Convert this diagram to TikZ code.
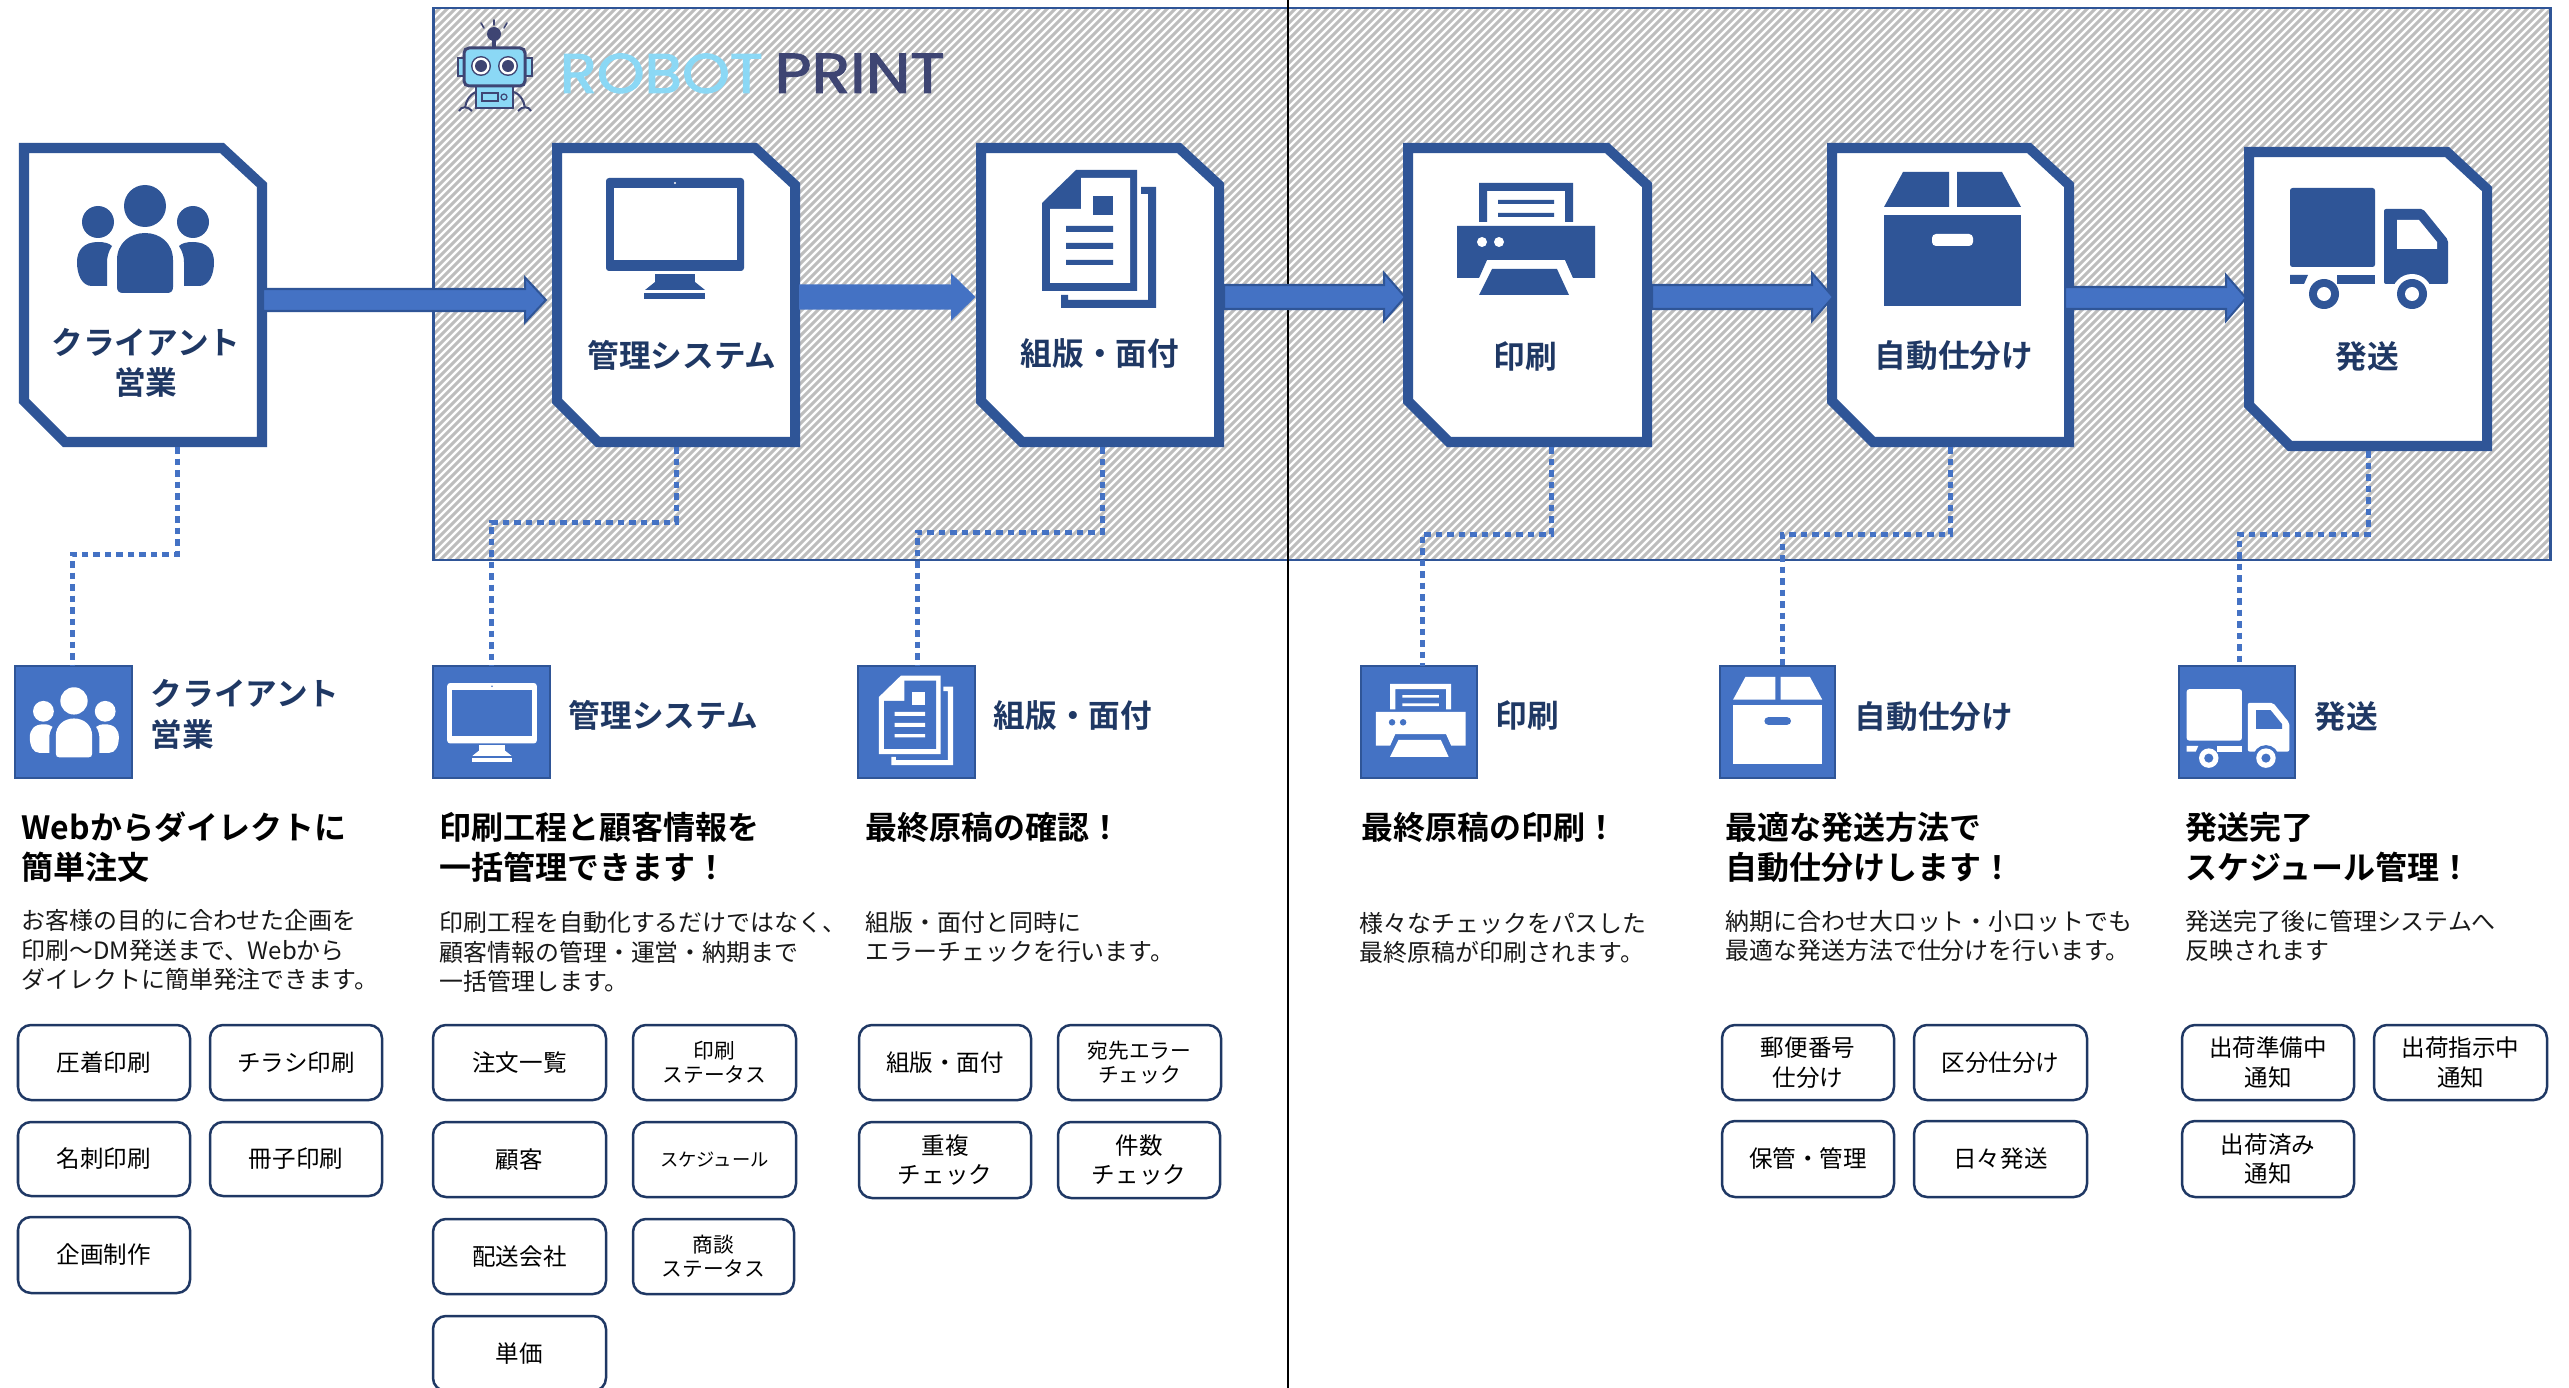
\documentclass[tikz,border=0pt]{standalone}
\usepackage{fontspec}
\usepackage{graphicx}
\usetikzlibrary{calc}
\newfontfamily\jp{Noto Sans CJK JP}
\newfontfamily\jpb{Noto Sans CJK JP Bold}
\newfontfamily\logofont{Poppins}[FakeBold=2]
\definecolor{cardblue}{HTML}{2F5597}
\definecolor{fillblue}{HTML}{4472C4}
\definecolor{navy}{HTML}{1F3864}
\definecolor{hatch}{HTML}{BDBDBD}
\definecolor{logodark}{HTML}{3E4573}
\definecolor{logolight}{HTML}{8BD8F5}
\tikzset{
  cardbox/.style={rectangle,outer sep=0pt,inner sep=0pt},
  cardline/.style={draw=cardblue,fill=white,line width=0.1cm,miter limit=10},
  iconbox/.style={draw=cardblue,fill=fillblue,line width=0.025cm,inner sep=0pt,outer sep=0pt},
  tagbox/.style={draw=navy,fill=white,rounded corners=0.13cm,line width=0.025cm,inner sep=0pt,align=center,text=black},
  tagA/.style={tagbox,font=\jp\fontsize{6.69}{8.5}\selectfont},
  tagB/.style={tagbox,font=\jp\fontsize{5.89}{6.9}\selectfont},
  tagC/.style={tagbox,font=\jp\fontsize{5.21}{6.5}\selectfont},
  cardtitle/.style={font=\jpb\fontsize{9.0}{11.4}\selectfont,text=navy,inner sep=0pt,align=center},
  sidetitle/.style={font=\jpb\fontsize{9.0}{11.7}\selectfont,text=navy,inner sep=0pt,align=left,anchor=west},
  headline/.style={font=\jpb\fontsize{9.1}{11.38}\selectfont,text=black,inner sep=0pt,align=left,anchor=west},
  bodytext/.style={font=\jp\fontsize{6.8}{8.3}\selectfont,text=black!90,inner sep=0pt,align=left,anchor=west},
  conn/.style={draw=fillblue,line width=0.05cm,dash pattern=on 0.065cm off 0.05cm},
  fatarrow/.style={draw=cardblue,fill=fillblue,line width=0.02cm,miter limit=10},
}
\newcommand{\cardnode}[5]{%
  \node[cardbox,minimum width={(#4-#2)*0.01cm},minimum height={(#5-#3)*0.01cm}] (#1) at ({(#2+#4)/2},{(#3+#5)/2}) {};
  \draw[cardline] ({#2+5},{#3+5}) -- ({#4-45},{#3+5}) -- ({#4-5},{#3+42}) -- ({#4-5},{#5-5}) -- ({#2+46},{#5-5}) -- ({#2+5},{#5-46}) -- cycle;}
\newcommand{\iconnode}[5]{\node[iconbox,minimum width={(#4-#2)*0.01cm},minimum height={(#5-#3)*0.01cm}] (#1) at ({(#2+#4)/2},{(#3+#5)/2}) {};}
\newcommand{\tagnode}[7]{\node[#6,minimum width={(#4-#2)*0.01cm},minimum height={(#5-#3)*0.01cm}] (#1) at ({(#2+#4)/2},{(#3+#5)/2}) {#7};}
% a, b, tip dx, start dx, mid y, half shaft, half head, head length
\newcommand{\bigarrow}[8]{%
  \coordinate (as) at ([xshift=#4*0.01cm]#1.east |- 0,#5);
  \coordinate (at) at ([xshift=#3*0.01cm]#2.west |- 0,#5);
  \draw[fatarrow] ($(as)+(0,-#6)$) -- ($(at)+(-#8,-#6)$) -- ($(at)+(-#8,-#7)$) -- (at) -- ($(at)+(-#8,#7)$) -- ($(at)+(-#8,#6)$) -- ($(as)+(0,#6)$) -- cycle;}
% Icon art, in the coordinates of the cards
\newcommand{\peopleart}{%
  \fill[icofg] (145,206) circle (21) (98,222) circle (16) (193,222) circle (16);
  \fill[icofg] (117,260) .. controls (117,243) and (130,233) .. (145,233) .. controls (160,233) and (173,243) .. (173,260) -- (173,287) .. controls (173,291) and (171,293) .. (167,293) -- (123,293) .. controls (119,293) and (117,291) .. (117,287) -- cycle;
  \fill[icofg] (107,286) -- (92,286) .. controls (82,286) and (77,275) .. (77,262) .. controls (77,250) and (84,242) .. (98,242) .. controls (104,242) and (109,243) .. (112,246) .. controls (108,252) and (107,258) .. (107,262) -- cycle;
  \fill[icofg] (184,286) -- (199,286) .. controls (209,286) and (214,275) .. (214,262) .. controls (214,250) and (207,242) .. (193,242) .. controls (187,242) and (182,243) .. (179,246) .. controls (183,252) and (184,258) .. (184,262) -- cycle;}
\newcommand{\monitorart}{%
  \fill[icofg,rounded corners=0.03cm] (606,178) rectangle (744,271);
  \fill[icobg] (614,188) rectangle (737,260);
  \fill[icobg] (675,183) circle (1.2);
  \fill[icofg] (655,274) rectangle (695,287);
  \fill[icofg] (655,282) -- (695,282) -- (705,290) -- (645,290) -- cycle;
  \fill[icofg] (644,293) rectangle (705,299);}
\newcommand{\docart}{%
  \fill[icofg] (1076,170) -- (1137,170) -- (1137,291) -- (1042,291) -- (1042,203) -- cycle;
  \fill[icobg] (1081,178) -- (1130,178) -- (1130,283) -- (1050,283) -- (1050,209) -- (1081,209) -- cycle;
  \fill[icofg] (1093,196) rectangle (1113,215);
  \fill[icofg] (1066,226) rectangle (1113,232) (1066,243) rectangle (1113,249) (1066,260) rectangle (1113,265);
  \fill[icofg] (1141,187) -- (1156,187) -- (1156,308) -- (1061,308) -- (1061,295) -- (1068,295) -- (1068,300) -- (1148,300) -- (1148,194) -- (1141,194) -- cycle;}
\newcommand{\printerart}{%
  \fill[icofg] (1479,222) -- (1479,183) -- (1573,183) -- (1573,222) -- (1565,222) -- (1565,191) -- (1487,191) -- (1487,222) -- cycle;
  \fill[icofg] (1498,200) rectangle (1554,204) (1498,213) rectangle (1554,217);
  \fill[icofg] (1457,226) -- (1595,226) -- (1595,278) -- (1573,278) -- (1565,260) -- (1487,260) -- (1479,278) -- (1457,278) -- cycle;
  \fill[icobg] (1482,242) circle (5) (1499,242) circle (5);
  \fill[icofg] (1492,269) -- (1557,269) -- (1569,295) -- (1479,295) -- cycle;}
\newcommand{\boxart}{%
  \fill[icofg] (1884,207) -- (1903,172) -- (1949,172) -- (1949,207) -- cycle;
  \fill[icofg] (1957,207) -- (1957,172) -- (2002,172) -- (2021,207) -- cycle;
  \fill[icofg] (1884,215) rectangle (2021,306);
  \fill[icobg,rounded corners=0.04cm] (1932,234) rectangle (1973,246);}
\newcommand{\truckart}{%
  \fill[icofg,rounded corners=0.025cm] (2290,188) rectangle (2375,267);
  \fill[icofg,rounded corners=0.02cm] (2384,284) -- (2384,209) -- (2423,209) -- (2448,240) -- (2448,284) -- cycle;
  \fill[icofg] (2290,275) -- (2308,275) -- (2304,284) -- (2290,284) -- cycle;
  \fill[icofg] (2337,275) -- (2375,275) -- (2375,284) -- (2337,284) -- cycle;
  \fill[icobg] (2397,220) -- (2419,220) -- (2437,242) -- (2437,249) -- (2397,249) -- cycle;
  \fill[icobg] (2412,294) circle (20);
  \fill[icofg] (2324,294) circle (15) (2412,294) circle (15);
  \fill[icobg] (2324,294) circle (7) (2412,294) circle (7);}
% place art: art, new centre x, y, art centre x, y
\newcommand{\placeart}[5]{\begin{scope}[shift={(#2,#3)},scale=0.65,shift={(-#4,-#5)}]\colorlet{icofg}{white}\colorlet{icobg}{fillblue}#1\end{scope}}
\begin{document}
\begin{tikzpicture}[x=0.01cm,y=-0.01cm]
\useasboundingbox (0,0) rectangle (2569,1388);
\fill[white] (0,0) rectangle (2569,1388);
% hatched panel
\begin{scope}
  \clip (434,8) rectangle (2550,560);
  \fill[white] (434,8) rectangle (2550,560);
  \foreach \i in {0,...,340} {
    \draw[hatch,line width=0.03cm] ({-120+8*\i},560) -- ({-120+8*\i+552},8);
  }
\end{scope}
\node[draw=cardblue,line width=0.025cm,minimum width=21.16cm,minimum height=5.52cm,inner sep=0pt] (panel) at (1492,284) {};
\coordinate (railtop) at (1288,0);
\coordinate (railbot) at (1288,1388);
\draw[black,line width=0.027cm] (railtop) -- (railbot);
% logo robot
\begin{scope}
  \draw[logodark,line width=0.016cm,line cap=round] (481,23) -- (484,28) (494,20) -- (494,25) (507,23) -- (504,28);
  \fill[logodark] (494,34) circle (7);
  \fill[logodark] (492,38) rectangle (496,48);
  \draw[logodark,line width=0.02cm,fill=logolight] (458,58) rectangle (465,76);
  \draw[logodark,line width=0.02cm,fill=logolight] (525,58) rectangle (532,76);
  \draw[logodark,line width=0.02cm] (476,92) .. controls (469,95) and (466,101) .. (465,108);
  \draw[logodark,line width=0.02cm] (514,92) .. controls (521,95) and (524,101) .. (525,108);
  \draw[logodark,line width=0.02cm] (459,111) .. controls (461,106) and (468,106) .. (472,111);
  \draw[logodark,line width=0.02cm] (518,111) .. controls (522,106) and (529,106) .. (531,111);
  \draw[logodark,line width=0.025cm,fill=logolight] (476,86) rectangle (513,108);
  \draw[logodark,line width=0.03cm,fill=logolight,rounded corners=0.05cm] (464,48) rectangle (525,86);
  \fill[logodark] (481,66) circle (10) (508,66) circle (10);
  \fill[white] (481,66) circle (8.5) (508,66) circle (8.5);
  \fill[logodark] (481,66) circle (6) (508,66) circle (6);
  \draw[logodark,line width=0.015cm,fill=logolight] (482,93) rectangle (498,101);
  \draw[logodark,line width=0.012cm,fill=logolight] (504,97) circle (3);
\end{scope}
\node[inner sep=0pt,anchor=north west] (logoa) at (559,53) {\resizebox{2.03cm}{0.39cm}{\logofont\color{logolight}ROBOT}};
\node[inner sep=0pt,anchor=north west] (logob) at (774,53) {\resizebox{1.70cm}{0.39cm}{\logofont\color{logodark}PRINT}};
% cards
\cardnode{c1}{19}{143}{267}{447}
\cardnode{c2}{552}{143}{800}{447}
\cardnode{c3}{976}{143}{1224}{447}
\cardnode{c4}{1403}{143}{1652}{447}
\cardnode{c5}{1827}{143}{2074}{447}
\cardnode{c6}{2244}{147}{2492}{451}
% card icons
\colorlet{icofg}{cardblue}\colorlet{icobg}{white}
\peopleart \monitorart \docart \printerart \boxart \truckart
% big arrows
\bigarrow{c1}{c2}{-6}{-4}{300}{11}{22.5}{21}
\begin{scope}[fatarrow/.append style={draw=fillblue}]
\bigarrow{c2}{c3}{-2}{0}{297}{11.5}{21.5}{22}
\end{scope}
\bigarrow{c3}{c4}{2}{0}{297}{12}{24}{21}
\bigarrow{c4}{c5}{6}{0}{297}{12}{24}{21}
\bigarrow{c5}{c6}{2}{-9}{298}{11}{23}{20}
% card titles
\node[cardtitle] (t1) at (146,363) {クライアント\\営業};
\node[cardtitle] (t2) at (682,355) {管理システム};
\node[cardtitle] (t3) at (1100,353.5) {組版・面付};
\node[cardtitle] (t4) at (1525,356) {印刷};
\node[cardtitle] (t5) at (1954,356) {自動仕分け};
\node[cardtitle] (t6) at (2367,357) {発送};
% lower icon squares
\iconnode{i1}{15}{666}{132}{778}
\iconnode{i2}{433}{666}{550}{778}
\iconnode{i3}{858}{666}{975}{778}
\iconnode{i4}{1361}{666}{1477}{778}
\iconnode{i5}{1720}{666}{1835}{778}
\iconnode{i6}{2179}{666}{2295}{778}
\placeart{\peopleart}{74}{723}{145}{240}
\placeart{\monitorart}{492}{722}{675}{238}
\placeart{\docart}{916}{721}{1099}{240}
\placeart{\printerart}{1420}{721}{1525}{240}
\placeart{\boxart}{1778}{721}{1953}{240}
\placeart{\truckart}{2238}{723}{2369}{240}
% connectors
\draw[conn] ([xshift=0.34cm]c1.south) -- ++(0,107) -| ([xshift=-0.005cm]i1.north -| 73,0);
\draw[conn] ([xshift=0cm]c2.south) -- ++(0,75) -| ([xshift=0cm]i2.north);
\draw[conn] ([xshift=0.02cm]c3.south) -- ++(0,85) -| ([xshift=0.005cm]i3.north);
\draw[conn] ([xshift=0.235cm]c4.south) -- ++(0,87) -| ([xshift=0.03cm]i4.north);
\draw[conn] ([xshift=0cm]c5.south) -- ++(0,87) -| ([xshift=0.05cm]i5.north);
\draw[conn] ([xshift=0cm]c6.south) -- ++(0,83) -| ([xshift=0.02cm]i6.north);
% side titles
\node[sidetitle] (s1) at (150,714) {クライアント\\営業};
\node[sidetitle] (s2) at (568,715) {管理システム};
\node[sidetitle] (s3) at (993,715) {組版・面付};
\node[sidetitle] (s4) at (1495,715) {印刷};
\node[sidetitle] (s5) at (1854,716.5) {自動仕分け};
\node[sidetitle] (s6) at (2314,716.5) {発送};
% headlines
\node[headline] (h1) at (21,847) {Webからダイレクトに\\簡単注文};
\node[headline] (h2) at (439,847) {印刷工程と顧客情報を\\一括管理できます！};
\node[headline] (h3) at (865,827) {最終原稿の確認！};
\node[headline] (h4) at (1361,827) {最終原稿の印刷！};
\node[headline] (h5) at (1725,847) {最適な発送方法で\\自動仕分けします！};
\node[headline] (h6) at (2185,847) {発送完了\\スケジュール管理！};
% body text
\node[bodytext] (b1) at (21,950) {お客様の目的に合わせた企画を\\印刷〜DM発送まで、Webから\\ダイレクトに簡単発注できます。};
\node[bodytext] (b2) at (439,952) {印刷工程を自動化するだけではなく、\\顧客情報の管理・運営・納期まで\\一括管理します。};
\node[bodytext] (b3) at (865,937) {組版・面付と同時に\\エラーチェックを行います。};
\node[bodytext] (b4) at (1359,938) {様々なチェックをパスした\\最終原稿が印刷されます。};
\node[bodytext] (b5) at (1725,936) {納期に合わせ大ロット・小ロットでも\\最適な発送方法で仕分けを行います。};
\node[bodytext] (b6) at (2185,936) {発送完了後に管理システムへ\\反映されます};
% tag boxes
\tagnode{a1}{18}{1025}{190}{1100}{tagA}{圧着印刷}
\tagnode{a2}{210}{1025}{382}{1100}{tagA}{チラシ印刷}
\tagnode{a3}{18}{1122}{190}{1196}{tagA}{名刺印刷}
\tagnode{a4}{210}{1122}{382}{1196}{tagA}{冊子印刷}
\tagnode{a5}{18}{1217}{190}{1293}{tagA}{企画制作}
\tagnode{b21}{433}{1025}{606}{1100}{tagA}{注文一覧}
\tagnode{b22}{433}{1122}{606}{1197}{tagA}{顧客}
\tagnode{b23}{433}{1219}{606}{1294}{tagA}{配送会社}
\tagnode{b24}{433}{1316}{606}{1391}{tagA}{単価}
\tagnode{b25}{633}{1025}{796}{1100}{tagB}{印刷\\ステータス}
\tagnode{b26}{633}{1122}{796}{1197}{tagC}{スケジュール}
\tagnode{b27}{633}{1219}{794}{1294}{tagB}{商談\\ステータス}
\tagnode{c31}{859}{1025}{1031}{1100}{tagA}{組版・面付}
\tagnode{c32}{1058}{1025}{1221}{1100}{tagB}{宛先エラー\\チェック}
\tagnode{c33}{859}{1122}{1031}{1198}{tagA}{重複\\チェック}
\tagnode{c34}{1058}{1122}{1220}{1198}{tagA}{件数\\チェック}
\tagnode{e1}{1722}{1025}{1894}{1100}{tagA}{郵便番号\\仕分け}
\tagnode{e2}{1914}{1025}{2087}{1100}{tagA}{区分仕分け}
\tagnode{e3}{1722}{1121}{1894}{1197}{tagA}{保管・管理}
\tagnode{e4}{1914}{1121}{2087}{1197}{tagA}{日々発送}
\tagnode{f1}{2182}{1025}{2354}{1100}{tagA}{出荷準備中\\通知}
\tagnode{f2}{2374}{1025}{2547}{1100}{tagA}{出荷指示中\\通知}
\tagnode{f3}{2182}{1121}{2354}{1197}{tagA}{出荷済み\\通知}
\end{tikzpicture}
\end{document}
